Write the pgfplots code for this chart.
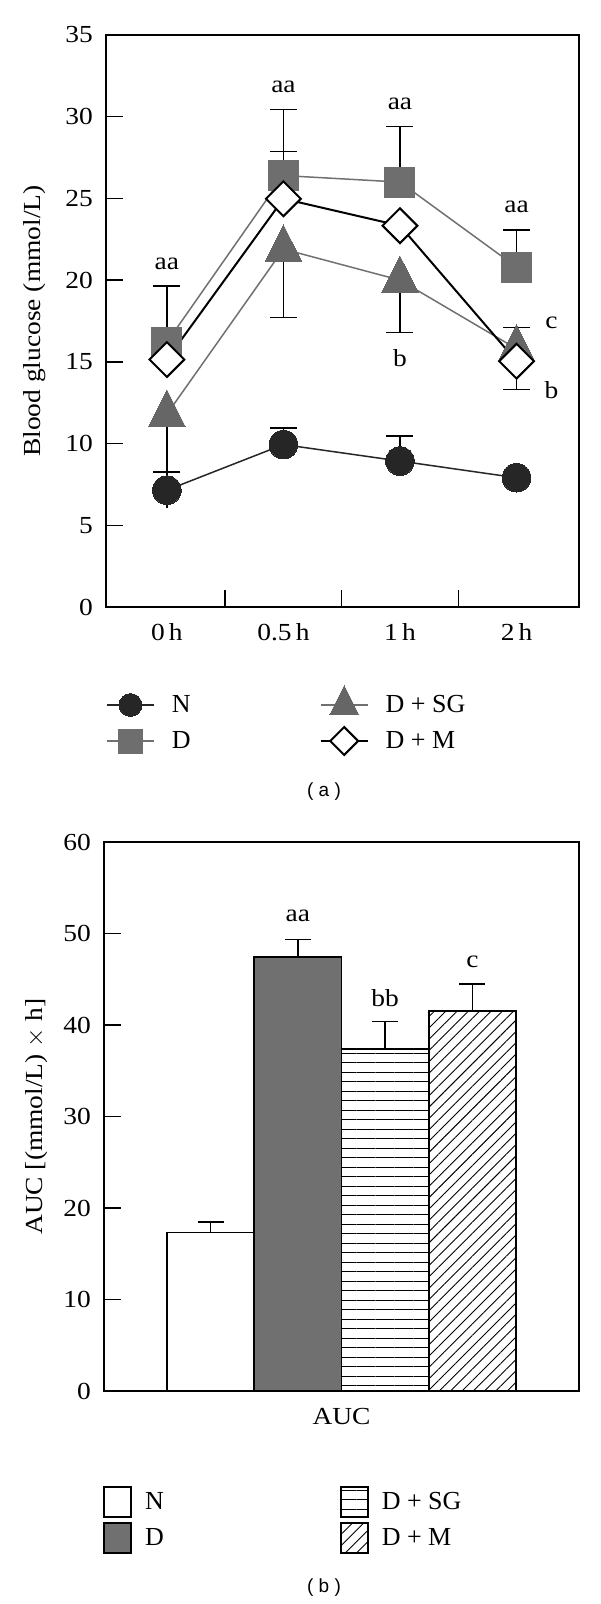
\documentclass[border=0pt]{standalone}
\usepackage{pgfplots}
\pgfplotsset{compat=1.18}
\usetikzlibrary{patterns.meta}
\usepackage{fontspec}
\setmainfont{Liberation Serif}[FakeStretch=1.12]
\newfontfamily\legfont{Liberation Serif}
\newfontfamily\capfont{Liberation Sans}
\definecolor{ncol}{HTML}{262626}
\definecolor{dcol}{HTML}{6E6E6E}
\definecolor{sgcol}{HTML}{666666}
\definecolor{gline}{HTML}{707070}
\definecolor{dbar}{HTML}{707070}
\pgfplotsset{
  myaxis/.style={
    scale only axis, clip=false,
    axis line style={line width=1.6pt},
    tick align=inside, tick pos=left,
    major tick length=17pt,
    tick style={line width=1.5pt, black},
    /pgf/number format/assume math mode=true,
    tick label style={font=\fontsize{24.5}{28}\selectfont},
    yticklabel style={anchor=east, inner sep=0pt, xshift=-13pt},
    xticklabel style={anchor=center, inner sep=0pt, yshift=-25pt},
    label style={font=\fontsize{24.5}{28}\selectfont},
    legend cell align=left,
    legend style={draw=none, fill=none, inner sep=0pt, outer sep=0pt,
      font=\legfont\fontsize{26}{30}\selectfont, nodes={inner sep=0pt},
      row sep=0pt, column sep=0pt},
  },
  barleg/.style={legend image code/.code={%
    \pgfpathrectangle{\pgfpoint{0pt}{-18pt}}{\pgfpoint{27pt}{36pt}}\pgfusepath{use as bounding box}%
    \draw[##1] (0pt,-15pt) rectangle (27pt,15pt);}},
  lineleg/.style={legend image code/.code={%
    \pgfpathrectangle{\pgfpoint{0pt}{-18pt}}{\pgfpoint{47pt}{36pt}}\pgfusepath{use as bounding box}%
    \draw[mark repeat=2,mark phase=2,##1,every mark/.append style={scale=0.8}] plot coordinates {(0pt,0pt) (23.5pt,0pt) (47pt,0pt)};}},
  errup/.style={forget plot, draw=none, mark=none,
    error bars/.cd, y dir=plus, y explicit,
    error bar style={draw=black, line width=1.5pt},
    error mark options={rotate=90, mark size=#1, line width=1.5pt, draw=black}},
  errdown/.style={forget plot, draw=none, mark=none,
    error bars/.cd, y dir=minus, y explicit,
    error bar style={draw=black, line width=1.5pt},
    error mark options={rotate=90, mark size=#1, line width=1.5pt, draw=black}},
}
\begin{document}
\begin{tikzpicture}
\useasboundingbox (0pt,0pt) rectangle (600pt,-1604pt);
% ---------------- (a) ----------------
\begin{axis}[myaxis, at={(106pt,-607pt)}, anchor=south west,
  width=473pt, height=572pt,
  xmin=-0.5225, xmax=3.536, ymin=0, ymax=35,
  xtick={0,1,2,3}, xticklabels={0\,h,0.5\,h,1\,h,2\,h}, xtick style={draw=none},
  ytick={0,5,...,35},
  ylabel={Blood glucose (mmol/L)},
  ylabel style={at={(axis description cs:-0.150,0.5)}, anchor=center},
  legend columns=2,
  legend style={at={(axis description cs:0.002,-0.2028)}, anchor=west,
    /tikz/every odd column/.append style={column sep=18pt},
    /tikz/every even column/.append style={column sep=130pt}},
  lineleg,
]
\addplot[color=ncol, line width=1.5pt, mark=*, mark size=14.3pt,
  mark options={fill=ncol, draw=ncol, line width=0pt}]
  coordinates {(0,7.15)(1,9.94)(2,8.93)(3,7.91)};
\addlegendentry{N}
\addplot[color=gline, line width=1.5pt, mark=triangle*, mark size=21pt,
  mark options={fill=sgcol, draw=sgcol, line width=0pt, yscale=1.15}]
  coordinates {(0,11.8)(1,21.9)(2,20.0)(3,15.8)};
\addlegendentry{D + SG}
\addplot[color=gline, line width=1.5pt, mark=square*, mark size=15pt,
  mark options={fill=dcol, draw=dcol, line width=0pt}]
  coordinates {(0,16.2)(1,26.4)(2,26.0)(3,20.8)};
\addlegendentry{D}
\addplot[color=black, line width=2pt, mark=square*, mark size=12.3pt,
  mark options={fill=white, draw=black, rotate=45, line width=2pt}]
  coordinates {(0,15.14)(1,24.98)(2,23.33)(3,15.04)};
\addlegendentry{D + M}
% error bars, upward
\addplot[errup=13.5pt]
  coordinates {
  (0,7.15) +- (0,1.1)
  (1,9.94) +- (0,1.02)
  (2,8.93) +- (0,1.52)
  (0,16.2) +- (0,3.45)
  (1,26.4) +- (0,4.05)
  (2,26.0) +- (0,3.4)
  (3,20.8) +- (0,2.28)
  (3,15.8) +- (0,1.3)
  (1,24.98) +- (0,2.9)
  };
% error bars, downward
\addplot[errdown=13.5pt]
  coordinates {
  (0,11.8) +- (0,3.55)
  (1,21.9) +- (0,4.2)
  (2,20.0) +- (0,3.2)
  (3,15.04) +- (0,1.74)
  };
\addplot[errdown=0pt]
  coordinates {(0,7.15) +- (0,1.1)};
\draw[line width=1.5pt] (axis cs:0.5,0) -- ++(0pt,17pt);
\draw[line width=1.5pt] (axis cs:1.5,0) -- ++(0pt,17pt);
\draw[line width=1.5pt] (axis cs:2.5,0) -- ++(0pt,17pt);
\begin{scope}[every node/.style={font=\fontsize{24.5}{28}\selectfont}]
\node at (axis cs:0,21.0) {aa};
\node at (axis cs:1,31.8) {aa};
\node at (axis cs:2,30.8) {aa};
\node at (axis cs:3,24.5) {aa};
\node at (axis cs:2,15.2) {b};
\node at (axis cs:3.30,17.4) {c};
\node at (axis cs:3.30,13.3) {b};
\end{scope}
\end{axis}
\node[font=\capfont\fontsize{19}{22}\selectfont] at (324pt,-792pt) {( a )};
% ---------------- (b) ----------------
\begin{axis}[myaxis, at={(104pt,-1391pt)}, anchor=south west,
  width=475pt, height=549pt,
  xmin=-1.22, xmax=4.22, ymin=0, ymax=60,
  xtick={1.5}, xticklabels={AUC}, xtick style={draw=none},
  ytick={0,10,...,60},
  ylabel={AUC [(mmol/L) $\times$ h]},
  ylabel style={at={(axis description cs:-0.142,0.5)}, anchor=center},
  legend columns=2,
  legend style={at={(axis description cs:0,-0.235)}, anchor=west,
    /tikz/every odd column/.append style={column sep=14pt},
    /tikz/every even column/.append style={column sep=177pt}},
]
\addplot[ybar, bar width=1, bar shift=0, draw=black, line width=1.5pt, fill=white, barleg]
  coordinates {(0,17.35)};
\addlegendentry{N}
\addplot[ybar, bar width=1, bar shift=0, draw=black, line width=1.5pt,
  pattern={Lines[angle=0,distance=9.5pt,line width=0.9pt]}, pattern color=black, barleg]
  coordinates {(2,37.4)};
\addlegendentry{D + SG}
\addplot[ybar, bar width=1, bar shift=0, draw=black, line width=1.5pt, fill=dbar, barleg]
  coordinates {(1,47.44)};
\addlegendentry{D}
\addplot[ybar, bar width=1, bar shift=0, draw=black, line width=1.5pt,
  pattern={Lines[angle=45,distance=8pt,line width=0.9pt]}, pattern color=black, barleg]
  coordinates {(3,41.55)};
\addlegendentry{D + M}
\addplot[errup=13pt]
  coordinates {
  (0,17.35) +- (0,1.14)
  (1,47.44) +- (0,1.89)
  (2,37.4) +- (0,3.0)
  (3,41.55) +- (0,2.95)
  };
\begin{scope}[every node/.style={font=\fontsize{24.5}{28}\selectfont}]
\node at (axis cs:1,51.9) {aa};
\node at (axis cs:2,42.9) {bb};
\node at (axis cs:3,46.85) {c};
\end{scope}
\end{axis}
\node[font=\capfont\fontsize{19}{22}\selectfont] at (324pt,-1588pt) {( b )};
\end{tikzpicture}
\end{document}
